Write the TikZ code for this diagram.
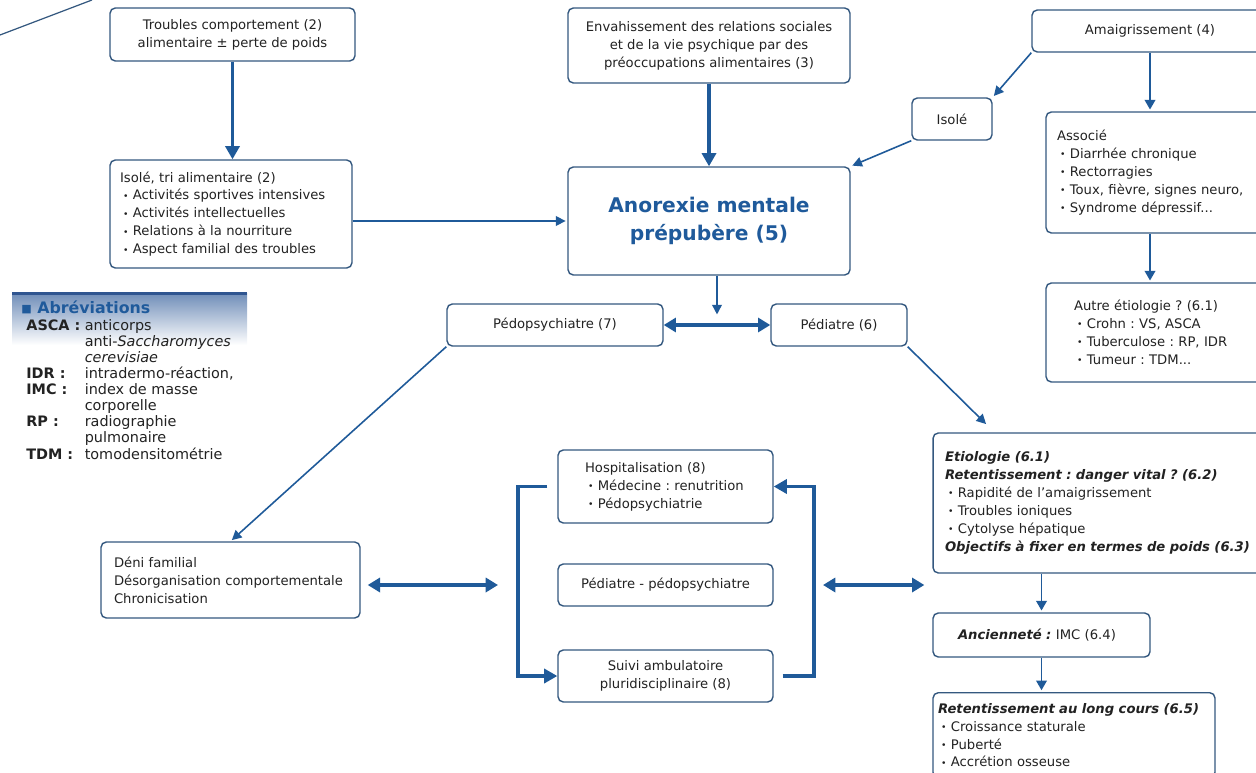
\documentclass[tikz,border=0pt]{standalone}
\usepackage{fontspec}
\setmainfont{DejaVu Sans}
\usepackage{tikz}
\usetikzlibrary{arrows.meta, calc}
\frenchspacing

\definecolor{boxcol}{HTML}{34587F}
\definecolor{arrowcol}{HTML}{1F5A99}
\definecolor{titleblue}{HTML}{1F5A9B}
\definecolor{txtcol}{HTML}{222222}
\definecolor{hdrblue}{HTML}{6F8DB8}
\definecolor{hdrdark}{HTML}{2F5590}

% small bullet for the lists
\newcommand{\itm}{\hspace*{1.7pt}\raisebox{0.1ex}{\scalebox{0.7}{•}}\hspace{2.5pt}}

\begin{document}
\begin{tikzpicture}[
    x=0.02cm, y=-0.02cm,
    box/.style={
        draw=boxcol,
        line width=0.8pt,
        rounded corners=3pt,
        fill=white,
        inner ysep=0pt,
        text=txtcol,
        font=\fontsize{7.5}{10.2}\selectfont
    },
    cbox/.style={box, align=center, inner xsep=0pt},
    lbox/.style={box, align=left},
    bigarrow/.style={arrowcol, line width=1.8pt, -{Triangle[length=7.5pt, width=8pt]}},
    medarrow/.style={arrowcol, line width=1.1pt, -{Triangle[length=5.5pt, width=6pt]}, shorten >=1pt},
    arrow/.style={arrowcol, line width=0.9pt, -{Triangle[length=5.5pt, width=5.5pt]}, shorten >=1pt},
    dblarrow/.style={arrowcol, line width=1.8pt, {Triangle[length=7pt, width=8pt]}-{Triangle[length=7pt, width=8pt]}},
    bracket/.style={arrowcol, line width=2pt, line join=miter, -{Triangle[length=7.5pt, width=8pt]}}
]
\useasboundingbox (0,0) rectangle (1256,773);

% cut-off line in the corner
\draw[boxcol, line width=0.7pt] (0,35) -- (92,0);

% Top row
\node[cbox, minimum width=4.9cm, minimum height=1.06cm] (troubles) at (232.5,34.5)
    {Troubles comportement (2)\\alimentaire ± perte de poids};
\node[lbox, text width=4.44cm, inner xsep=0.2cm, minimum height=2.16cm] (isoletri) at (231,214)
    {Isolé, tri alimentaire (2)\\\itm Activités sportives intensives\\\itm Activités intellectuelles\\\itm Relations à la nourriture\\\itm Aspect familial des troubles};
\node[cbox, minimum width=5.64cm, minimum height=1.5cm] (envah) at (709,45.5)
    {Envahissement des relations sociales\\et de la vie psychique par des\\préoccupations alimentaires (3)};
\node[cbox, minimum width=5.64cm, minimum height=2.16cm, text=titleblue,
      font=\fontsize{11.5}{16}\selectfont\bfseries] (anorexie) at (709,221)
    {Anorexie mentale\\prépubère (5)};
\node[cbox, minimum width=4.72cm, minimum height=0.84cm] (amaig) at (1150,31) {Amaigrissement (4)};
\node[cbox, minimum width=1.6cm, minimum height=0.84cm] (isole) at (952,119) {Isolé};
\node[lbox, text width=4.04cm, inner xsep=0.22cm, minimum height=2.42cm] (associe) at (1158,172.5)
    {Associé\\\itm Diarrhée chronique\\\itm Rectorragies\\\itm Toux, fièvre, signes neuro,\\\itm Syndrome dépressif...};
\node[lbox, text width=3.36cm, inner xsep=0.56cm, minimum height=1.98cm] (autre) at (1158,332.5)
    {Autre étiologie ? (6.1)\\\itm Crohn : VS, ASCA\\\itm Tuberculose : RP, IDR\\\itm Tumeur : TDM...};

% Middle row
\node[cbox, minimum width=4.32cm, minimum height=0.84cm] (pedopsy) at (555,325) {Pédopsychiatre (7)};
\node[cbox, minimum width=2.72cm, minimum height=0.84cm] (pediatre) at (839,325) {Pédiatre (6)};

% Abbreviations
\shade[top color=hdrblue, bottom color=white] (12,293) rectangle (247,345);
\fill[hdrdark] (12,292) rectangle (247,295);
\node[anchor=west, inner sep=0pt, text=titleblue, font=\fontsize{9}{10}\selectfont\bfseries] (abbrtitle) at (21,307)
    {\raisebox{0.1ex}{\scalebox{0.7}{■}} Abréviations};
\node[anchor=north west, inner sep=0pt, text=txtcol, font=\fontsize{8.2}{9.1}\selectfont] (abbrlist) at (26,319)
    {\begin{tabular}{@{}l@{\hspace{2.5pt}}l@{}}
     \textbf{ASCA :} & anticorps\\
      & anti-\textit{Saccharomyces}\\
      & \textit{cerevisiae}\\
     \textbf{IDR :} & intradermo-réaction,\\
     \textbf{IMC :} & index de masse\\
      & corporelle\\
     \textbf{RP :} & radiographie\\
      & pulmonaire\\
     \textbf{TDM :} & tomodensitométrie
     \end{tabular}};

% Bottom row
\node[lbox, text width=4.66cm, inner xsep=0.26cm, minimum height=1.52cm] (deni) at (230.5,580)
    {Déni familial\\Désorganisation comportementale\\Chronicisation};
\node[lbox, text width=3.22cm, inner xsep=0.54cm, minimum height=1.46cm] (hosp) at (665.5,486.5)
    {Hospitalisation (8)\\\itm Médecine : renutrition\\\itm Pédopsychiatrie};
\node[cbox, minimum width=4.3cm, minimum height=0.84cm] (pedped) at (665.5,585) {Pédiatre - pédopsychiatre};
\node[cbox, minimum width=4.3cm, minimum height=1.04cm] (suivi) at (665.5,676)
    {Suivi ambulatoire\\pluridisciplinaire (8)};
\node[lbox, text width=6.36cm, inner xsep=0.24cm, minimum height=2.8cm] (etio) at (1104,503)
    {\textbf{\textit{Etiologie (6.1)}}\\\textbf{\textit{Retentissement : danger vital ? (6.2)}}\\\itm Rapidité de l'amaigrissement\\\itm Troubles ioniques\\\itm Cytolyse hépatique\\\textbf{\textit{Objectifs à fixer en termes de poids (6.3)}}};
\node[lbox, text width=3.34cm, inner xsep=0.5cm, minimum height=0.88cm] (ancien) at (1041.5,635)
    {\textbf{\textit{Ancienneté :}} IMC (6.4)};
\node[lbox, anchor=north, text width=5.44cm, inner xsep=0.1cm, minimum height=1.7cm] (retent) at (1074,692)
    {\textbf{\textit{Retentissement au long cours (6.5)}}\\\itm Croissance staturale\\\itm Puberté\\\itm Accrétion osseuse};

% Arrows
\draw[bigarrow] (troubles.south) -- (troubles.south |- isoletri.north);
\draw[bigarrow] (envah) -- (anorexie);
\draw[arrow] (isoletri.east |- anorexie.west) -- (anorexie.west);
\draw[arrow] (amaig.south west) -- (isole.north east);
\draw[arrow] (isole.south west) -- (anorexie.north east);
\draw[medarrow] (amaig.south) -- (amaig.south |- associe.north);
\draw[medarrow] (amaig.south |- associe.south) -- (amaig.south |- autre.north);

\coordinate (mid) at ($(pedopsy.east)!0.5!(pediatre.west)$);
\draw[arrow] (mid |- anorexie.south) -- ([yshift=5pt]mid);
\draw[dblarrow] (pedopsy.east) -- (pediatre.west);
\draw[arrow] (pedopsy.south west) -- (deni.north);
\draw[arrow] (pediatre.south east) -- ([xshift=1.1cm, yshift=4pt]etio.north west);

\coordinate (brL) at (518,585);
\coordinate (brR) at (814,585);
\draw[dblarrow, shorten <=4pt] (deni.east |- brL) -- ([xshift=-0.4cm]brL);
\draw[bracket] ([xshift=-0.2cm]hosp.west) -| (brL) |- (suivi.west);
\draw[bracket] ([xshift=0.18cm]suivi.east) -| (brR) |- (hosp.east);
\draw[dblarrow] ([xshift=0.18cm]brR) -- ([xshift=-0.16cm]etio.west |- brR);

\draw[medarrow] (ancien.north |- etio.south) -- (ancien.north);
\draw[medarrow] (ancien.south) -- (ancien.south |- retent.north);

\end{tikzpicture}
\end{document}
